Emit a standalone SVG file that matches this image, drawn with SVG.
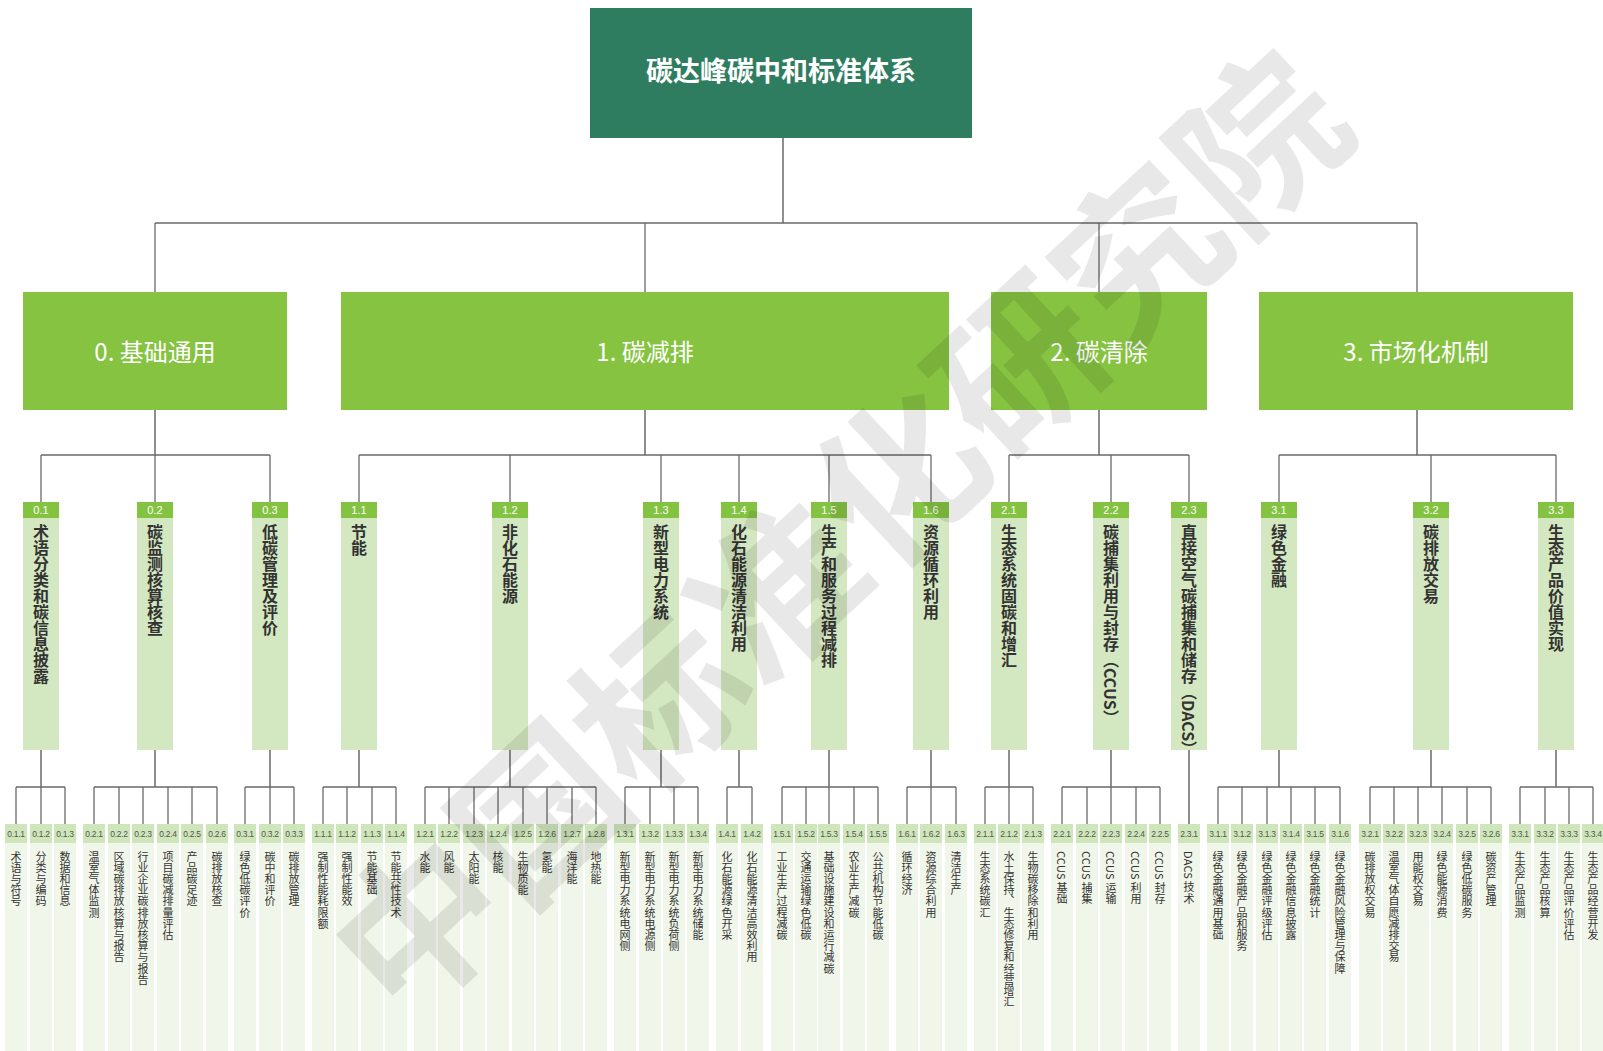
<svg xmlns="http://www.w3.org/2000/svg" width="1603" height="1051" viewBox="0 0 1603 1051">
<style>
text{font-family:"Noto Sans CJK SC","Liberation Sans",sans-serif;}
.top{fill:#2e7d60}
.l1{fill:#85c341}
.h2{fill:#84c341}
.b2{fill:#d3e8c0}
.lh{fill:#cfe6ba}
.lb{fill:#f0f6e9}
.t0{fill:#fff;font-size:27px;font-weight:bold;text-anchor:middle;dominant-baseline:central}
.t1{fill:#fff;font-size:24px;text-anchor:middle;dominant-baseline:central}
.n2{fill:#fff;font-family:"Liberation Sans",sans-serif;font-size:11px;text-anchor:middle}
.v2{fill:#333;font-size:16px;font-weight:bold;writing-mode:vertical-rl}
.ll{fill:#555;font-family:"Liberation Sans",sans-serif;font-size:8.5px;letter-spacing:-0.3px;text-anchor:middle}
.lt{fill:#333;font-size:11px;writing-mode:vertical-rl;letter-spacing:0.2px}
.c{fill:none;stroke:#6a6a6a;stroke-width:1.3}
.cd{fill:none;stroke:#333;stroke-width:1.1}
.wm{fill:#000;fill-opacity:0.09;font-size:164px;font-weight:bold;text-anchor:middle;dominant-baseline:central}
</style>
<g id="connectors">
<path class="cd" d="M783 138V223"/>
<path class="c" d="M155 223H1417M155 223V292M645 223V292M1099 223V292M1417 223V292"/>
<path class="cd" d="M155 410V455M645 410V455M1099 410V455M1417 410V455"/>
<path class="c" d="M41 455H270M41 455V502M155 455V502M270 455V502"/>
<path class="c" d="M359 455H931M359 455V502M510 455V502M661 455V502M739 455V502M829 455V502M931 455V502"/>
<path class="c" d="M1009 455H1189M1009 455V502M1111 455V502M1189 455V502"/>
<path class="c" d="M1279 455H1556M1279 455V502M1431 455V502M1556 455V502"/>
<path class="cd" d="M41 750V787M155 750V787M270 750V787M359 750V787M510 750V787M661 750V787M739 750V787M829 750V787M931 750V787M1009 750V787M1111 750V787M1189 750V824M1279 750V787M1431 750V787M1556 750V787"/>
<path class="c" d="M16 787H65M16 787V824M41 787V824M65 787V824"/>
<path class="c" d="M94 787H217M94 787V824M119 787V824M143 787V824M168 787V824M192 787V824M217 787V824"/>
<path class="c" d="M245 787H294M245 787V824M270 787V824M294 787V824"/>
<path class="c" d="M323 787H396M323 787V824M347 787V824M372 787V824M396 787V824"/>
<path class="c" d="M425 787H596M425 787V824M449 787V824M474 787V824M498 787V824M523 787V824M547 787V824M572 787V824M596 787V824"/>
<path class="c" d="M625 787H698M625 787V824M650 787V824M674 787V824M698 787V824"/>
<path class="c" d="M727 787H752M727 787V824M752 787V824"/>
<path class="c" d="M782 787H878M782 787V824M806 787V824M829 787V824M854 787V824M878 787V824"/>
<path class="c" d="M907 787H956M907 787V824M931 787V824M956 787V824"/>
<path class="c" d="M985 787H1033M985 787V824M1009 787V824M1033 787V824"/>
<path class="c" d="M1062 787H1160M1062 787V824M1087 787V824M1111 787V824M1136 787V824M1160 787V824"/>
<path class="c" d="M1218 787H1340M1218 787V824M1242 787V824M1267 787V824M1291 787V824M1315 787V824M1340 787V824"/>
<path class="c" d="M1370 787H1491M1370 787V824M1394 787V824M1418 787V824M1442 787V824M1467 787V824M1491 787V824"/>
<path class="c" d="M1520 787H1593M1520 787V824M1545 787V824M1569 787V824M1593 787V824"/>
</g>
<g id="root"><rect class="top" x="590" y="8" width="382" height="130"/><text class="t0" x="781" y="69">碳达峰碳中和标准体系</text></g>
<g id="n0"><rect class="l1" x="23" y="292" width="264" height="118"/><text class="t1" x="155" y="350">0. 基础通用</text></g>
<g id="n1"><rect class="l1" x="341" y="292" width="608" height="118"/><text class="t1" x="645" y="350">1. 碳减排</text></g>
<g id="n2"><rect class="l1" x="991" y="292" width="216" height="118"/><text class="t1" x="1099" y="350">2. 碳清除</text></g>
<g id="n3"><rect class="l1" x="1259" y="292" width="314" height="118"/><text class="t1" x="1416" y="350">3. 市场化机制</text></g>
<g id="n0-1"><rect class="h2" x="23" y="502" width="36" height="16"/><rect class="b2" x="23" y="518" width="36" height="232"/><text class="n2" x="41" y="514">0.1</text><text class="v2" x="41" y="524">术语分类和碳信息披露</text></g>
<g id="n0-2"><rect class="h2" x="137" y="502" width="36" height="16"/><rect class="b2" x="137" y="518" width="36" height="232"/><text class="n2" x="155" y="514">0.2</text><text class="v2" x="155" y="524">碳监测核算核查</text></g>
<g id="n0-3"><rect class="h2" x="252" y="502" width="36" height="16"/><rect class="b2" x="252" y="518" width="36" height="232"/><text class="n2" x="270" y="514">0.3</text><text class="v2" x="270" y="524">低碳管理及评价</text></g>
<g id="n1-1"><rect class="h2" x="341" y="502" width="36" height="16"/><rect class="b2" x="341" y="518" width="36" height="232"/><text class="n2" x="359" y="514">1.1</text><text class="v2" x="359" y="524">节能</text></g>
<g id="n1-2"><rect class="h2" x="492" y="502" width="36" height="16"/><rect class="b2" x="492" y="518" width="36" height="232"/><text class="n2" x="510" y="514">1.2</text><text class="v2" x="510" y="524">非化石能源</text></g>
<g id="n1-3"><rect class="h2" x="643" y="502" width="36" height="16"/><rect class="b2" x="643" y="518" width="36" height="232"/><text class="n2" x="661" y="514">1.3</text><text class="v2" x="661" y="524">新型电力系统</text></g>
<g id="n1-4"><rect class="h2" x="721" y="502" width="36" height="16"/><rect class="b2" x="721" y="518" width="36" height="232"/><text class="n2" x="739" y="514">1.4</text><text class="v2" x="739" y="524">化石能源清洁利用</text></g>
<g id="n1-5"><rect class="h2" x="811" y="502" width="36" height="16"/><rect class="b2" x="811" y="518" width="36" height="232"/><text class="n2" x="829" y="514">1.5</text><text class="v2" x="829" y="524">生产和服务过程减排</text></g>
<g id="n1-6"><rect class="h2" x="913" y="502" width="36" height="16"/><rect class="b2" x="913" y="518" width="36" height="232"/><text class="n2" x="931" y="514">1.6</text><text class="v2" x="931" y="524">资源循环利用</text></g>
<g id="n2-1"><rect class="h2" x="991" y="502" width="36" height="16"/><rect class="b2" x="991" y="518" width="36" height="232"/><text class="n2" x="1009" y="514">2.1</text><text class="v2" x="1009" y="524">生态系统固碳和增汇</text></g>
<g id="n2-2"><rect class="h2" x="1093" y="502" width="36" height="16"/><rect class="b2" x="1093" y="518" width="36" height="232"/><text class="n2" x="1111" y="514">2.2</text><text class="v2" x="1111" y="524">碳捕集利用与封存（CCUS）</text></g>
<g id="n2-3"><rect class="h2" x="1171" y="502" width="36" height="16"/><rect class="b2" x="1171" y="518" width="36" height="232"/><text class="n2" x="1189" y="514">2.3</text><text class="v2" x="1189" y="524">直接空气碳捕集和储存（DACS）</text></g>
<g id="n3-1"><rect class="h2" x="1261" y="502" width="36" height="16"/><rect class="b2" x="1261" y="518" width="36" height="232"/><text class="n2" x="1279" y="514">3.1</text><text class="v2" x="1279" y="524">绿色金融</text></g>
<g id="n3-2"><rect class="h2" x="1413" y="502" width="36" height="16"/><rect class="b2" x="1413" y="518" width="36" height="232"/><text class="n2" x="1431" y="514">3.2</text><text class="v2" x="1431" y="524">碳排放交易</text></g>
<g id="n3-3"><rect class="h2" x="1538" y="502" width="36" height="16"/><rect class="b2" x="1538" y="518" width="36" height="232"/><text class="n2" x="1556" y="514">3.3</text><text class="v2" x="1556" y="524">生态产品价值实现</text></g>
<g id="n0-1-1"><rect class="lh" x="5" y="824" width="22" height="19"/><rect class="lb" x="5" y="843" width="22" height="208"/><text class="ll" x="16" y="836.5">0.1.1</text><text class="lt" x="16" y="851">术语与符号</text></g>
<g id="n0-1-2"><rect class="lh" x="30" y="824" width="22" height="19"/><rect class="lb" x="30" y="843" width="22" height="208"/><text class="ll" x="41" y="836.5">0.1.2</text><text class="lt" x="41" y="851">分类与编码</text></g>
<g id="n0-1-3"><rect class="lh" x="54" y="824" width="22" height="19"/><rect class="lb" x="54" y="843" width="22" height="208"/><text class="ll" x="65" y="836.5">0.1.3</text><text class="lt" x="65" y="851">数据和信息</text></g>
<g id="n0-2-1"><rect class="lh" x="83" y="824" width="22" height="19"/><rect class="lb" x="83" y="843" width="22" height="208"/><text class="ll" x="94" y="836.5">0.2.1</text><text class="lt" x="94" y="851">温室气体监测</text></g>
<g id="n0-2-2"><rect class="lh" x="108" y="824" width="22" height="19"/><rect class="lb" x="108" y="843" width="22" height="208"/><text class="ll" x="119" y="836.5">0.2.2</text><text class="lt" x="119" y="851">区域碳排放核算与报告</text></g>
<g id="n0-2-3"><rect class="lh" x="132" y="824" width="22" height="19"/><rect class="lb" x="132" y="843" width="22" height="208"/><text class="ll" x="143" y="836.5">0.2.3</text><text class="lt" x="143" y="851">行业企业碳排放核算与报告</text></g>
<g id="n0-2-4"><rect class="lh" x="157" y="824" width="22" height="19"/><rect class="lb" x="157" y="843" width="22" height="208"/><text class="ll" x="168" y="836.5">0.2.4</text><text class="lt" x="168" y="851">项目碳减排量评估</text></g>
<g id="n0-2-5"><rect class="lh" x="181" y="824" width="22" height="19"/><rect class="lb" x="181" y="843" width="22" height="208"/><text class="ll" x="192" y="836.5">0.2.5</text><text class="lt" x="192" y="851">产品碳足迹</text></g>
<g id="n0-2-6"><rect class="lh" x="206" y="824" width="22" height="19"/><rect class="lb" x="206" y="843" width="22" height="208"/><text class="ll" x="217" y="836.5">0.2.6</text><text class="lt" x="217" y="851">碳排放核查</text></g>
<g id="n0-3-1"><rect class="lh" x="234" y="824" width="22" height="19"/><rect class="lb" x="234" y="843" width="22" height="208"/><text class="ll" x="245" y="836.5">0.3.1</text><text class="lt" x="245" y="851">绿色低碳评价</text></g>
<g id="n0-3-2"><rect class="lh" x="259" y="824" width="22" height="19"/><rect class="lb" x="259" y="843" width="22" height="208"/><text class="ll" x="270" y="836.5">0.3.2</text><text class="lt" x="270" y="851">碳中和评价</text></g>
<g id="n0-3-3"><rect class="lh" x="283" y="824" width="22" height="19"/><rect class="lb" x="283" y="843" width="22" height="208"/><text class="ll" x="294" y="836.5">0.3.3</text><text class="lt" x="294" y="851">碳排放管理</text></g>
<g id="n1-1-1"><rect class="lh" x="312" y="824" width="22" height="19"/><rect class="lb" x="312" y="843" width="22" height="208"/><text class="ll" x="323" y="836.5">1.1.1</text><text class="lt" x="323" y="851">强制性能耗限额</text></g>
<g id="n1-1-2"><rect class="lh" x="336" y="824" width="22" height="19"/><rect class="lb" x="336" y="843" width="22" height="208"/><text class="ll" x="347" y="836.5">1.1.2</text><text class="lt" x="347" y="851">强制性能效</text></g>
<g id="n1-1-3"><rect class="lh" x="361" y="824" width="22" height="19"/><rect class="lb" x="361" y="843" width="22" height="208"/><text class="ll" x="372" y="836.5">1.1.3</text><text class="lt" x="372" y="851">节能基础</text></g>
<g id="n1-1-4"><rect class="lh" x="385" y="824" width="22" height="19"/><rect class="lb" x="385" y="843" width="22" height="208"/><text class="ll" x="396" y="836.5">1.1.4</text><text class="lt" x="396" y="851">节能共性技术</text></g>
<g id="n1-2-1"><rect class="lh" x="414" y="824" width="22" height="19"/><rect class="lb" x="414" y="843" width="22" height="208"/><text class="ll" x="425" y="836.5">1.2.1</text><text class="lt" x="425" y="851">水能</text></g>
<g id="n1-2-2"><rect class="lh" x="438" y="824" width="22" height="19"/><rect class="lb" x="438" y="843" width="22" height="208"/><text class="ll" x="449" y="836.5">1.2.2</text><text class="lt" x="449" y="851">风能</text></g>
<g id="n1-2-3"><rect class="lh" x="463" y="824" width="22" height="19"/><rect class="lb" x="463" y="843" width="22" height="208"/><text class="ll" x="474" y="836.5">1.2.3</text><text class="lt" x="474" y="851">太阳能</text></g>
<g id="n1-2-4"><rect class="lh" x="487" y="824" width="22" height="19"/><rect class="lb" x="487" y="843" width="22" height="208"/><text class="ll" x="498" y="836.5">1.2.4</text><text class="lt" x="498" y="851">核能</text></g>
<g id="n1-2-5"><rect class="lh" x="512" y="824" width="22" height="19"/><rect class="lb" x="512" y="843" width="22" height="208"/><text class="ll" x="523" y="836.5">1.2.5</text><text class="lt" x="523" y="851">生物质能</text></g>
<g id="n1-2-6"><rect class="lh" x="536" y="824" width="22" height="19"/><rect class="lb" x="536" y="843" width="22" height="208"/><text class="ll" x="547" y="836.5">1.2.6</text><text class="lt" x="547" y="851">氢能</text></g>
<g id="n1-2-7"><rect class="lh" x="561" y="824" width="22" height="19"/><rect class="lb" x="561" y="843" width="22" height="208"/><text class="ll" x="572" y="836.5">1.2.7</text><text class="lt" x="572" y="851">海洋能</text></g>
<g id="n1-2-8"><rect class="lh" x="585" y="824" width="22" height="19"/><rect class="lb" x="585" y="843" width="22" height="208"/><text class="ll" x="596" y="836.5">1.2.8</text><text class="lt" x="596" y="851">地热能</text></g>
<g id="n1-3-1"><rect class="lh" x="614" y="824" width="22" height="19"/><rect class="lb" x="614" y="843" width="22" height="208"/><text class="ll" x="625" y="836.5">1.3.1</text><text class="lt" x="625" y="851">新型电力系统电网侧</text></g>
<g id="n1-3-2"><rect class="lh" x="639" y="824" width="22" height="19"/><rect class="lb" x="639" y="843" width="22" height="208"/><text class="ll" x="650" y="836.5">1.3.2</text><text class="lt" x="650" y="851">新型电力系统电源侧</text></g>
<g id="n1-3-3"><rect class="lh" x="663" y="824" width="22" height="19"/><rect class="lb" x="663" y="843" width="22" height="208"/><text class="ll" x="674" y="836.5">1.3.3</text><text class="lt" x="674" y="851">新型电力系统负荷侧</text></g>
<g id="n1-3-4"><rect class="lh" x="687" y="824" width="22" height="19"/><rect class="lb" x="687" y="843" width="22" height="208"/><text class="ll" x="698" y="836.5">1.3.4</text><text class="lt" x="698" y="851">新型电力系统储能</text></g>
<g id="n1-4-1"><rect class="lh" x="716" y="824" width="22" height="19"/><rect class="lb" x="716" y="843" width="22" height="208"/><text class="ll" x="727" y="836.5">1.4.1</text><text class="lt" x="727" y="851">化石能源绿色开采</text></g>
<g id="n1-4-2"><rect class="lh" x="741" y="824" width="22" height="19"/><rect class="lb" x="741" y="843" width="22" height="208"/><text class="ll" x="752" y="836.5">1.4.2</text><text class="lt" x="752" y="851">化石能源清洁高效利用</text></g>
<g id="n1-5-1"><rect class="lh" x="771" y="824" width="22" height="19"/><rect class="lb" x="771" y="843" width="22" height="208"/><text class="ll" x="782" y="836.5">1.5.1</text><text class="lt" x="782" y="851">工业生产过程减碳</text></g>
<g id="n1-5-2"><rect class="lh" x="795" y="824" width="22" height="19"/><rect class="lb" x="795" y="843" width="22" height="208"/><text class="ll" x="806" y="836.5">1.5.2</text><text class="lt" x="806" y="851">交通运输绿色低碳</text></g>
<g id="n1-5-3"><rect class="lh" x="818" y="824" width="22" height="19"/><rect class="lb" x="818" y="843" width="22" height="208"/><text class="ll" x="829" y="836.5">1.5.3</text><text class="lt" x="829" y="851">基础设施建设和运行减碳</text></g>
<g id="n1-5-4"><rect class="lh" x="843" y="824" width="22" height="19"/><rect class="lb" x="843" y="843" width="22" height="208"/><text class="ll" x="854" y="836.5">1.5.4</text><text class="lt" x="854" y="851">农业生产减碳</text></g>
<g id="n1-5-5"><rect class="lh" x="867" y="824" width="22" height="19"/><rect class="lb" x="867" y="843" width="22" height="208"/><text class="ll" x="878" y="836.5">1.5.5</text><text class="lt" x="878" y="851">公共机构节能低碳</text></g>
<g id="n1-6-1"><rect class="lh" x="896" y="824" width="22" height="19"/><rect class="lb" x="896" y="843" width="22" height="208"/><text class="ll" x="907" y="836.5">1.6.1</text><text class="lt" x="907" y="851">循环经济</text></g>
<g id="n1-6-2"><rect class="lh" x="920" y="824" width="22" height="19"/><rect class="lb" x="920" y="843" width="22" height="208"/><text class="ll" x="931" y="836.5">1.6.2</text><text class="lt" x="931" y="851">资源综合利用</text></g>
<g id="n1-6-3"><rect class="lh" x="945" y="824" width="22" height="19"/><rect class="lb" x="945" y="843" width="22" height="208"/><text class="ll" x="956" y="836.5">1.6.3</text><text class="lt" x="956" y="851">清洁生产</text></g>
<g id="n2-1-1"><rect class="lh" x="974" y="824" width="22" height="19"/><rect class="lb" x="974" y="843" width="22" height="208"/><text class="ll" x="985" y="836.5">2.1.1</text><text class="lt" x="985" y="851">生态系统碳汇</text></g>
<g id="n2-1-2"><rect class="lh" x="998" y="824" width="22" height="19"/><rect class="lb" x="998" y="843" width="22" height="208"/><text class="ll" x="1009" y="836.5">2.1.2</text><text class="lt" x="1009" y="851">水土保持、生态修复和经营增汇</text></g>
<g id="n2-1-3"><rect class="lh" x="1022" y="824" width="22" height="19"/><rect class="lb" x="1022" y="843" width="22" height="208"/><text class="ll" x="1033" y="836.5">2.1.3</text><text class="lt" x="1033" y="851">生物碳移除和利用</text></g>
<g id="n2-2-1"><rect class="lh" x="1051" y="824" width="22" height="19"/><rect class="lb" x="1051" y="843" width="22" height="208"/><text class="ll" x="1062" y="836.5">2.2.1</text><text class="lt" x="1062" y="851">CCUS 基础</text></g>
<g id="n2-2-2"><rect class="lh" x="1076" y="824" width="22" height="19"/><rect class="lb" x="1076" y="843" width="22" height="208"/><text class="ll" x="1087" y="836.5">2.2.2</text><text class="lt" x="1087" y="851">CCUS 捕集</text></g>
<g id="n2-2-3"><rect class="lh" x="1100" y="824" width="22" height="19"/><rect class="lb" x="1100" y="843" width="22" height="208"/><text class="ll" x="1111" y="836.5">2.2.3</text><text class="lt" x="1111" y="851">CCUS 运输</text></g>
<g id="n2-2-4"><rect class="lh" x="1125" y="824" width="22" height="19"/><rect class="lb" x="1125" y="843" width="22" height="208"/><text class="ll" x="1136" y="836.5">2.2.4</text><text class="lt" x="1136" y="851">CCUS 利用</text></g>
<g id="n2-2-5"><rect class="lh" x="1149" y="824" width="22" height="19"/><rect class="lb" x="1149" y="843" width="22" height="208"/><text class="ll" x="1160" y="836.5">2.2.5</text><text class="lt" x="1160" y="851">CCUS 封存</text></g>
<g id="n2-3-1"><rect class="lh" x="1178" y="824" width="22" height="19"/><rect class="lb" x="1178" y="843" width="22" height="208"/><text class="ll" x="1189" y="836.5">2.3.1</text><text class="lt" x="1189" y="851">DACS 技术</text></g>
<g id="n3-1-1"><rect class="lh" x="1207" y="824" width="22" height="19"/><rect class="lb" x="1207" y="843" width="22" height="208"/><text class="ll" x="1218" y="836.5">3.1.1</text><text class="lt" x="1218" y="851">绿色金融通用基础</text></g>
<g id="n3-1-2"><rect class="lh" x="1231" y="824" width="22" height="19"/><rect class="lb" x="1231" y="843" width="22" height="208"/><text class="ll" x="1242" y="836.5">3.1.2</text><text class="lt" x="1242" y="851">绿色金融产品和服务</text></g>
<g id="n3-1-3"><rect class="lh" x="1256" y="824" width="22" height="19"/><rect class="lb" x="1256" y="843" width="22" height="208"/><text class="ll" x="1267" y="836.5">3.1.3</text><text class="lt" x="1267" y="851">绿色金融评级评估</text></g>
<g id="n3-1-4"><rect class="lh" x="1280" y="824" width="22" height="19"/><rect class="lb" x="1280" y="843" width="22" height="208"/><text class="ll" x="1291" y="836.5">3.1.4</text><text class="lt" x="1291" y="851">绿色金融信息披露</text></g>
<g id="n3-1-5"><rect class="lh" x="1304" y="824" width="22" height="19"/><rect class="lb" x="1304" y="843" width="22" height="208"/><text class="ll" x="1315" y="836.5">3.1.5</text><text class="lt" x="1315" y="851">绿色金融统计</text></g>
<g id="n3-1-6"><rect class="lh" x="1329" y="824" width="22" height="19"/><rect class="lb" x="1329" y="843" width="22" height="208"/><text class="ll" x="1340" y="836.5">3.1.6</text><text class="lt" x="1340" y="851">绿色金融风险管理与保障</text></g>
<g id="n3-2-1"><rect class="lh" x="1359" y="824" width="22" height="19"/><rect class="lb" x="1359" y="843" width="22" height="208"/><text class="ll" x="1370" y="836.5">3.2.1</text><text class="lt" x="1370" y="851">碳排放权交易</text></g>
<g id="n3-2-2"><rect class="lh" x="1383" y="824" width="22" height="19"/><rect class="lb" x="1383" y="843" width="22" height="208"/><text class="ll" x="1394" y="836.5">3.2.2</text><text class="lt" x="1394" y="851">温室气体自愿减排交易</text></g>
<g id="n3-2-3"><rect class="lh" x="1407" y="824" width="22" height="19"/><rect class="lb" x="1407" y="843" width="22" height="208"/><text class="ll" x="1418" y="836.5">3.2.3</text><text class="lt" x="1418" y="851">用能权交易</text></g>
<g id="n3-2-4"><rect class="lh" x="1431" y="824" width="22" height="19"/><rect class="lb" x="1431" y="843" width="22" height="208"/><text class="ll" x="1442" y="836.5">3.2.4</text><text class="lt" x="1442" y="851">绿色能源消费</text></g>
<g id="n3-2-5"><rect class="lh" x="1456" y="824" width="22" height="19"/><rect class="lb" x="1456" y="843" width="22" height="208"/><text class="ll" x="1467" y="836.5">3.2.5</text><text class="lt" x="1467" y="851">绿色低碳服务</text></g>
<g id="n3-2-6"><rect class="lh" x="1480" y="824" width="22" height="19"/><rect class="lb" x="1480" y="843" width="22" height="208"/><text class="ll" x="1491" y="836.5">3.2.6</text><text class="lt" x="1491" y="851">碳资产管理</text></g>
<g id="n3-3-1"><rect class="lh" x="1509" y="824" width="22" height="19"/><rect class="lb" x="1509" y="843" width="22" height="208"/><text class="ll" x="1520" y="836.5">3.3.1</text><text class="lt" x="1520" y="851">生态产品监测</text></g>
<g id="n3-3-2"><rect class="lh" x="1534" y="824" width="22" height="19"/><rect class="lb" x="1534" y="843" width="22" height="208"/><text class="ll" x="1545" y="836.5">3.3.2</text><text class="lt" x="1545" y="851">生态产品核算</text></g>
<g id="n3-3-3"><rect class="lh" x="1558" y="824" width="22" height="19"/><rect class="lb" x="1558" y="843" width="22" height="208"/><text class="ll" x="1569" y="836.5">3.3.3</text><text class="lt" x="1569" y="851">生态产品评价评估</text></g>
<g id="n3-3-4"><rect class="lh" x="1582" y="824" width="22" height="19"/><rect class="lb" x="1582" y="843" width="22" height="208"/><text class="ll" x="1593" y="836.5">3.3.4</text><text class="lt" x="1593" y="851">生态产品经营开发</text></g>
<g id="watermark"><text class="wm" x="832" y="526" transform="rotate(-43 832 526)">中国标准化研究院</text></g>
</svg>
